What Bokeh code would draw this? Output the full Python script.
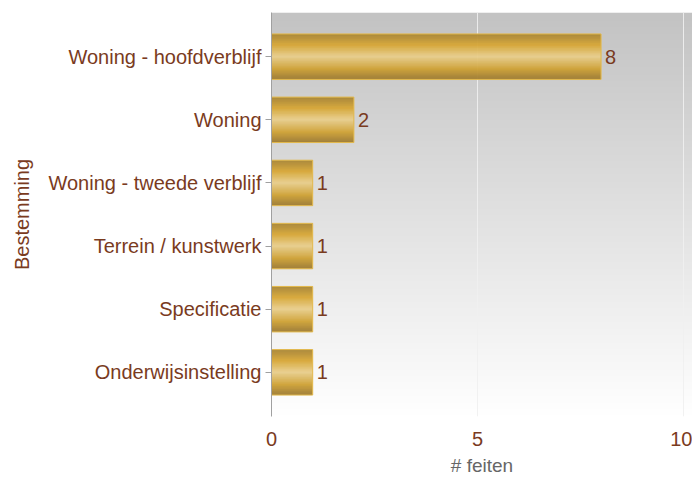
import numpy as np
from bokeh.plotting import figure
from bokeh.models import Range1d, FixedTicker, ColumnDataSource
from bokeh.embed import file_html
from bokeh.resources import INLINE
from bokeh.core.properties import value

# ---- data ----
categories = ["Onderwijsinstelling", "Specificatie", "Terrein / kunstwerk",
              "Woning - tweede verblijf", "Woning", "Woning - hoofdverblijf"]
counts = [1, 1, 1, 1, 2, 8]
x_ticks = [0, 5, 10]

FONT = "Liberation Sans"
BROWN = "#7a3b1e"
FS = "20px"

pos = list(range(len(categories)))
XMAX = 10.22
p = figure(width=692, height=478, output_backend="svg", toolbar_location=None,
           x_range=Range1d(0, XMAX), y_range=Range1d(-0.7, len(categories) - 0.3),
           min_border_left=271, min_border_right=0, min_border_top=12, min_border_bottom=59)
p.outline_line_color = None
p.background_fill_color = "white"

# background gradient (white bottom -> grey top)
n = 256
t = np.linspace(0, 1, n)
g = (255 - t * (255 - 0xC3)).astype(np.uint32)
bg = np.zeros((n, 1), dtype=np.uint32)
bg[:, 0] = (255 << 24) | (g << 16) | (g << 8) | g
p.image_rgba(image=[bg], x=0, y=-0.7, dw=XMAX, dh=len(categories) + 0.4, level="image")

# bar gradient (bottom -> top)
stops = [(0.0, (0x9e, 0x7c, 0x34)), (0.22, (0xcf, 0xa2, 0x36)), (0.5, (0xe9, 0xcf, 0x8e)),
         (0.75, (0xd8, 0xa8, 0x38)), (1.0, (0xa8, 0x86, 0x36))]
m = 64
tt = np.linspace(0, 1, m)
sp = [s[0] for s in stops]
r = np.interp(tt, sp, [s[1][0] for s in stops]).astype(np.uint32)
gg = np.interp(tt, sp, [s[1][1] for s in stops]).astype(np.uint32)
b = np.interp(tt, sp, [s[1][2] for s in stops]).astype(np.uint32)
bar_img = np.zeros((m, 1), dtype=np.uint32)
bar_img[:, 0] = (245 << 24) | (b << 16) | (gg << 8) | r

H = 0.72
src = ColumnDataSource(dict(
    image=[bar_img] * len(counts), x=[0] * len(counts),
    y=[i - H / 2 for i in pos], dw=counts, dh=[H] * len(counts),
    yc=pos, c=counts, lbl=[str(c) for c in counts]))
p.image_rgba(image="image", x="x", y="y", dw="dw", dh="dh", source=src)
p.hbar(y="yc", right="c", left=0, height=H, source=src, fill_color=None,
       line_color="#e3b84a", line_width=1)

p.text(x="c", y="yc", text="lbl", source=src, x_offset=4, text_baseline="middle",
       text_align="left", text_color=BROWN, text_font=value(FONT), text_font_size=FS)

# grid
p.ygrid.grid_line_color = None
p.xgrid.ticker = FixedTicker(ticks=x_ticks)
p.xgrid.grid_line_color = "#f0f0f0"
p.xgrid.grid_line_alpha = 0.9
p.xgrid.level = "underlay"

# axes
p.yaxis.ticker = FixedTicker(ticks=pos)
p.yaxis.major_label_overrides = {i: c for i, c in zip(pos, categories)}
p.yaxis.axis_line_color = "#a0a0a0"
p.yaxis.major_tick_line_color = "#a0a0a0"
p.yaxis.major_tick_out = 6
p.yaxis.major_tick_in = 0
p.yaxis.minor_tick_line_color = None
p.yaxis.major_label_text_color = BROWN
p.yaxis.major_label_text_font = FONT
p.yaxis.major_label_text_font_size = FS
p.yaxis.major_label_standoff = 4
p.yaxis.axis_label = "Bestemming"
p.yaxis.axis_label_text_color = BROWN
p.yaxis.axis_label_text_font = FONT
p.yaxis.axis_label_text_font_size = FS
p.yaxis.axis_label_text_font_style = "normal"
p.yaxis.axis_label_standoff = 12

p.xaxis.ticker = FixedTicker(ticks=x_ticks)
p.xaxis.axis_line_color = None
p.xaxis.major_tick_line_color = None
p.xaxis.minor_tick_line_color = None
p.xaxis.major_label_text_color = BROWN
p.xaxis.major_label_text_font = FONT
p.xaxis.major_label_text_font_size = FS
p.xaxis.major_label_standoff = 9
p.xaxis.axis_label = "# feiten"
p.xaxis.axis_label_text_color = "#666666"
p.xaxis.axis_label_text_font = FONT
p.xaxis.axis_label_text_font_size = "19px"
p.xaxis.axis_label_text_font_style = "normal"
p.xaxis.axis_label_standoff = 6

open("out.html", "w").write(file_html(p, INLINE))
